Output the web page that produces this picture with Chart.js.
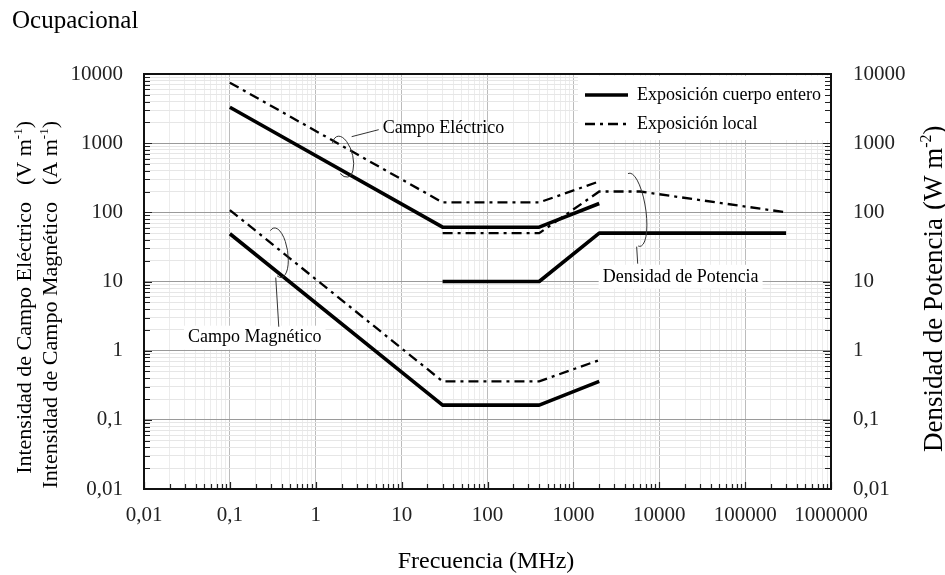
<!DOCTYPE html>
<html><head><meta charset="utf-8">
<script src="https://cdn.jsdelivr.net/npm/chart.js@4.4.0/dist/chart.umd.min.js"></script>
<style>html,body{margin:0;padding:0;background:#fff;}canvas{display:block;}</style>
</head><body>
<canvas id="c" width="945" height="575"></canvas>
<script>
// ---------- data ----------
const freqE = [0.1, 30, 400, 2000];
const eWholeBody = [3300, 61, 61, 134];
const eLocal = [7500, 139, 139, 280];
const freqH = [0.1, 30, 400, 2000];
const hWholeBody = [49, 0.163, 0.163, 0.36];
const hLocal = [108, 0.36, 0.36, 0.73];
const freqSWhole = [30, 400, 2000, 300000];
const sWholeBody = [10, 10, 50, 50];
const freqSLocal = [30, 400, 2000, 6000, 300000];
const sLocal = [50, 50, 200, 200, 100];

const xDecades = [0.01, 0.1, 1, 10, 100, 1000, 10000, 100000, 1000000];
const xTickLabels = ['0,01', '0,1', '1', '10', '100', '1000', '10000', '100000', '1000000'];
const yDecades = [0.01, 0.1, 1, 10, 100, 1000, 10000];
const yTickLabels = ['0,01', '0,1', '1', '10', '100', '1000', '10000'];

const legendLabels = ['Exposición cuerpo entero', 'Exposición local'];
const titleText = 'Ocupacional';
const xTitle = 'Frecuencia (MHz)';
const yTitle1 = 'Intensidad de Campo Eléctrico';
const yUnit1 = ['(V m', '-1', ')'];
const yTitle2 = 'Intensidad de Campo Magnético';
const yUnit2 = ['(A m', '-1', ')'];
const y2Title = 'Densidad de Potencia';
const y2Unit = ['(W m', '-2', ')'];

// annotation anchors in data units (frequency MHz, value)
const annLabels = ['Campo Eléctrico', 'Campo Magnético', 'Densidad de Potencia'];
const annEllipseF = [2.06, 0.361, 5176];
const annEllipseV = [638, 26.1, 109];
const annLeadFromF = [2.62, 0.342, 5458];
const annLeadFromV = [1242, 11.4, 31.9];
const annLeadToF = [5.41, 0.371, 5610];
const annLeadToV = [1567, 2.22, 18.1];
const annTextF = [6.03, 0.195, 17740];
const annTextV = [1620, 1.54, 11.7];

// ---------- helpers ----------
const FONT = '"Liberation Serif", "Times New Roman", serif';
const DASH = [10, 5, 3, 5];
function pts(xs, ys) { return xs.map((x, i) => ({ x: x, y: ys[i] })); }
function allTicks(decs) {
  const out = [];
  for (let i = 0; i < decs.length - 1; i++) for (let k = 1; k <= 9; k++) out.push(decs[i] * k);
  out.push(decs[decs.length - 1]);
  return out;
}
function decIndex(decs, v) {
  for (let i = 0; i < decs.length; i++) if (Math.abs(Math.log10(v) - Math.log10(decs[i])) < 1e-6) return i;
  return -1;
}
const xTicks = allTicks(xDecades);
const yTicks = allTicks(yDecades);

function solid(label, data, axis) {
  return { label, data, yAxisID: axis, borderColor: '#000', borderWidth: 3.6, pointRadius: 0,
    fill: false, tension: 0, borderJoinStyle: 'round', borderCapStyle: 'butt', showLine: true };
}
function dashed(label, data, axis) {
  return { label, data, yAxisID: axis, borderColor: '#000', borderWidth: 2.3, pointRadius: 0,
    fill: false, tension: 0, borderDash: DASH, borderCapStyle: 'butt', showLine: true };
}

function drawRich(ctx, x, y, parts, size, align) {
  ctx.font = size + 'px ' + FONT;
  const w0 = ctx.measureText(parts[0]).width;
  const w2 = ctx.measureText(parts[2]).width;
  ctx.font = Math.round(size * 0.6) + 'px ' + FONT;
  const w1 = ctx.measureText(parts[1]).width;
  let sx = x;
  if (align === 'right') sx = x - (w0 + w1 + w2);
  ctx.textAlign = 'left';
  ctx.font = size + 'px ' + FONT;
  ctx.fillText(parts[0], sx, y);
  ctx.font = Math.round(size * 0.6) + 'px ' + FONT;
  ctx.fillText(parts[1], sx + w0, y - size * 0.4);
  ctx.font = size + 'px ' + FONT;
  ctx.fillText(parts[2], sx + w0 + w1, y);
}

const decor = {
  id: 'decor',
  beforeDatasetsDraw(chart) {
    const { ctx, chartArea: a, scales } = chart;
    const xs = scales.x, ys = scales.y;
    ctx.save();
    ctx.fillStyle = '#fff';
    ctx.fillRect(a.right - 253, a.top + 2, 251, 64);
    ctx.font = '18px ' + FONT;
    for (let i = 1; i < 3; i++) {
      const w = ctx.measureText(annLabels[i]).width;
      const cx = xs.getPixelForValue(annTextF[i]);
      const cy = (i === 2 ? scales.y2 : ys).getPixelForValue(annTextV[i]);
      ctx.fillRect(cx - w / 2 - 4, cy - 12, w + 8, 24);
    }
    ctx.strokeStyle = '#222';
    ctx.lineWidth = 1.2;
    ctx.beginPath();
    xTicks.forEach(v => {
      const p = Math.round(xs.getPixelForValue(v)) + 0.5;
      const len = decIndex(xDecades, v) >= 0 ? 7 : 5;
      ctx.moveTo(p, a.bottom); ctx.lineTo(p, a.bottom - len);
    });
    yTicks.forEach(v => {
      const p = Math.round(ys.getPixelForValue(v)) + 0.5;
      const len = decIndex(yDecades, v) >= 0 ? 8 : 6;
      ctx.moveTo(a.left, p); ctx.lineTo(a.left + len, p);
      ctx.moveTo(a.right, p); ctx.lineTo(a.right - len, p);
    });
    ctx.stroke();
    ctx.restore();
  },
  afterDatasetsDraw(chart) {
    const { ctx, chartArea: a, scales } = chart;
    const xs = scales.x;
    ctx.save();
    ctx.strokeStyle = '#111';
    ctx.lineWidth = 2;
    ctx.strokeRect(a.left, a.top, a.right - a.left, a.bottom - a.top);

    const lx0 = a.right - 246, lx1 = a.right - 203, tx = a.right - 194;
    const rows = [a.top + 21, a.top + 50];
    ctx.strokeStyle = '#000';
    ctx.lineWidth = 3.6; ctx.setLineDash([]);
    ctx.beginPath(); ctx.moveTo(lx0, rows[0]); ctx.lineTo(lx1, rows[0]); ctx.stroke();
    ctx.lineWidth = 2.3; ctx.setLineDash(DASH);
    ctx.beginPath(); ctx.moveTo(lx0, rows[1]); ctx.lineTo(lx1, rows[1]); ctx.stroke();
    ctx.setLineDash([]);
    ctx.fillStyle = '#000';
    ctx.font = '18px ' + FONT;
    ctx.textAlign = 'left'; ctx.textBaseline = 'middle';
    ctx.fillText(legendLabels[0], tx, rows[0]);
    ctx.fillText(legendLabels[1], tx, rows[1]);

    const rx = [10, 10, 11], ry = [21, 25, 37];
    const gap0 = [2.3, 2.0, 1.75], gap1 = [4.0, 4.3, 4.6];
    ctx.lineWidth = 1;
    ctx.strokeStyle = '#333';
    for (let i = 0; i < 3; i++) {
      const yAx = i === 2 ? scales.y2 : scales.y;
      const cx = xs.getPixelForValue(annEllipseF[i]);
      const cy = yAx.getPixelForValue(annEllipseV[i]);
      ctx.beginPath();
      ctx.ellipse(cx, cy, rx[i], ry[i], i === 0 ? -0.25 : -0.15, gap1[i], gap0[i] + 2 * Math.PI, false);
      ctx.stroke();
      ctx.beginPath();
      ctx.moveTo(xs.getPixelForValue(annLeadFromF[i]), yAx.getPixelForValue(annLeadFromV[i]));
      ctx.lineTo(xs.getPixelForValue(annLeadToF[i]), yAx.getPixelForValue(annLeadToV[i]));
      ctx.stroke();
      ctx.fillStyle = '#000';
      ctx.font = '18px ' + FONT;
      ctx.textBaseline = 'middle';
      ctx.textAlign = i === 0 ? 'left' : 'center';
      ctx.fillText(annLabels[i], xs.getPixelForValue(annTextF[i]), yAx.getPixelForValue(annTextV[i]));
    }
    ctx.restore();
  },
  afterDraw(chart) {
    const { ctx } = chart;
    ctx.save();
    ctx.fillStyle = '#000';
    ctx.textBaseline = 'alphabetic';
    ctx.font = '25px ' + FONT;
    ctx.textAlign = 'left';
    ctx.fillText(titleText, 12, 28);
    ctx.font = '24px ' + FONT;
    ctx.textAlign = 'center';
    ctx.fillText(xTitle, 486, 568);
    const leftCols = [31, 57];
    const lt = [yTitle1, yTitle2], lu = [yUnit1, yUnit2];
    for (let i = 0; i < 2; i++) {
      ctx.save();
      ctx.translate(leftCols[i], 202);
      ctx.rotate(-Math.PI / 2);
      ctx.font = '22px ' + FONT;
      ctx.textAlign = 'right';
      ctx.fillText(lt[i], 0, 0);
      ctx.restore();
      ctx.save();
      ctx.translate(leftCols[i], 185);
      ctx.rotate(-Math.PI / 2);
      drawRich(ctx, 0, 0, lu[i], 22, 'left');
      ctx.restore();
    }
    ctx.save();
    ctx.translate(942, 218);
    ctx.rotate(-Math.PI / 2);
    ctx.font = '27px ' + FONT;
    ctx.textAlign = 'right';
    ctx.fillText(y2Title, 0, 0);
    ctx.restore();
    ctx.save();
    ctx.translate(942, 210);
    ctx.rotate(-Math.PI / 2);
    drawRich(ctx, 0, 0, y2Unit, 27, 'left');
    ctx.restore();
    ctx.restore();
  }
};

function yScale(position, showGrid, width, pad) {
  return {
    type: 'logarithmic', position: position, min: yDecades[0], max: yDecades[yDecades.length - 1],
    afterBuildTicks: s => { s.ticks = yTicks.map(v => ({ value: v })); },
    afterFit: s => { s.width = width; },
    border: { display: false },
    grid: { display: showGrid, drawTicks: false,
      color: c => (c.tick && decIndex(yDecades, c.tick.value) >= 0) ? '#9a9a9a' : '#e6e6e6', lineWidth: 1 },
    ticks: { autoSkip: false, padding: pad, color: '#222', font: { family: FONT, size: 21 },
      callback: v => { const i = decIndex(yDecades, v); return i >= 0 ? yTickLabels[i] : ''; } }
  };
}

new Chart(document.getElementById('c'), {
  type: 'line',
  data: {
    datasets: [
      solid('Campo Eléctrico – cuerpo entero', pts(freqE, eWholeBody), 'y'),
      dashed('Campo Eléctrico – local', pts(freqE, eLocal), 'y'),
      solid('Campo Magnético – cuerpo entero', pts(freqH, hWholeBody), 'y'),
      dashed('Campo Magnético – local', pts(freqH, hLocal), 'y'),
      solid('Densidad de Potencia – cuerpo entero', pts(freqSWhole, sWholeBody), 'y2'),
      dashed('Densidad de Potencia – local', pts(freqSLocal, sLocal), 'y2')
    ]
  },
  options: {
    responsive: false, animation: false, devicePixelRatio: 1,
    layout: { padding: { top: 74, left: 0, right: 0, bottom: 0 } },
    plugins: { legend: { display: false }, tooltip: { enabled: false }, title: { display: false } },
    scales: {
      x: {
        type: 'logarithmic', position: 'bottom', min: xDecades[0], max: xDecades[xDecades.length - 1],
        afterBuildTicks: s => { s.ticks = xTicks.map(v => ({ value: v })); },
        afterFit: s => { s.height = 86; },
        border: { display: false },
        grid: { drawTicks: false,
          color: c => (c.tick && decIndex(xDecades, c.tick.value) >= 0) ? '#bcbcbc' : '#ececec', lineWidth: 1 },
        ticks: { autoSkip: false, maxRotation: 0, minRotation: 0, padding: 14, color: '#222',
          font: { family: FONT, size: 21 },
          callback: v => { const i = decIndex(xDecades, v); return i >= 0 ? xTickLabels[i] : ''; } }
      },
      y: yScale('left', true, 144, 21),
      y2: yScale('right', false, 114, 22)
    }
  },
  plugins: [decor]
});
</script>
</body></html>
